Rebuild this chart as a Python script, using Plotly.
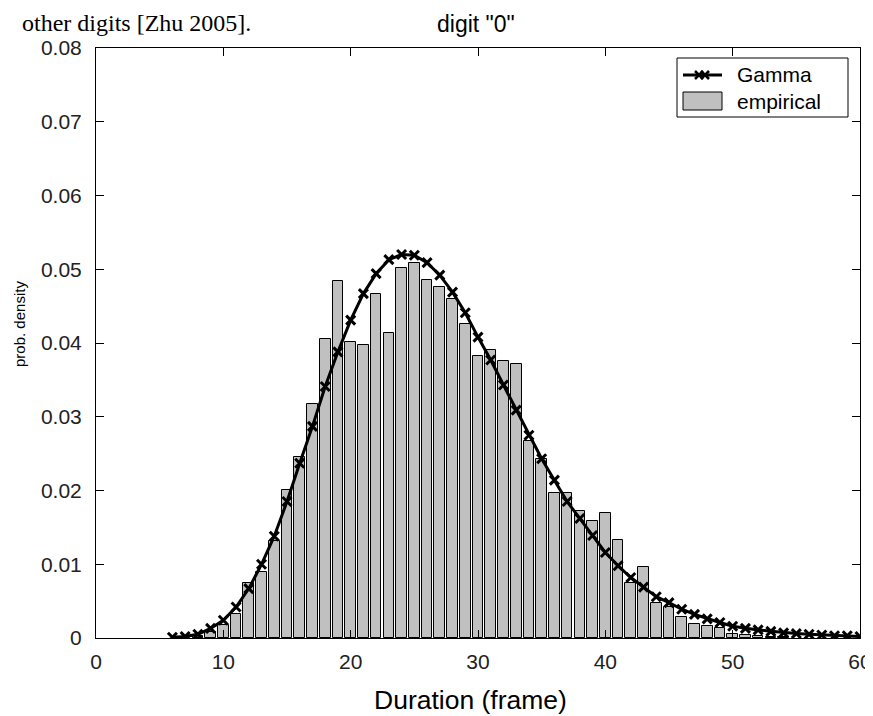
import plotly.graph_objects as go

# Empirical histogram (duration in frames -> probability density)
bar_x = list(range(7, 55))
bar_y = [0.0001, 0.0003, 0.00085, 0.0018, 0.0033, 0.0075, 0.0089, 0.0131, 0.0201, 0.0246,
         0.0317, 0.0405, 0.0484, 0.0402, 0.0397, 0.0467, 0.0414, 0.0502, 0.0509, 0.0486,
         0.0476, 0.0459, 0.0426, 0.0383, 0.0391, 0.0375, 0.0371, 0.0267, 0.0243, 0.0197,
         0.0196, 0.0172, 0.0159, 0.0170, 0.0133, 0.0074, 0.0096, 0.0048, 0.0042, 0.0028,
         0.0019, 0.0016, 0.0013, 0.0006, 0.0004, 0.0003, 0.0002, 0.0001]

# Gamma fit evaluated at integer durations
gamma_x = list(range(6, 61))
gamma_y = [0.0001, 0.0002, 0.0005, 0.0013, 0.0024, 0.0042, 0.0067, 0.0100, 0.0138, 0.0185,
           0.0237, 0.0287, 0.0341, 0.0388, 0.0431, 0.0467, 0.0494, 0.0513, 0.0520, 0.0519,
           0.0509, 0.0492, 0.0469, 0.0441, 0.0408, 0.0377, 0.0343, 0.0309, 0.0275, 0.0243,
           0.0214, 0.0185, 0.0162, 0.0139, 0.0116, 0.0098, 0.0082, 0.0069, 0.0056, 0.0048,
           0.0039, 0.0032, 0.0026, 0.0021, 0.0016, 0.0013, 0.0011, 0.0009, 0.0007, 0.0006,
           0.0005, 0.0004, 0.0003, 0.0003, 0.0002]

x_ticks = [0, 10, 20, 30, 40, 50, 60]
y_ticks = [0, 0.01, 0.02, 0.03, 0.04, 0.05, 0.06, 0.07, 0.08]
y_tick_text = ["0", "0.01", "0.02", "0.03", "0.04", "0.05", "0.06", "0.07", "0.08"]

legend_names = ["Gamma", "empirical"]

SANS = "Liberation Sans, Arial"
BAR_FILL = "#c0c0c0"

# The page body adds an 8 px offset, so the figure is sized to fill the rest.
W, H = 865, 708
ML, MR, MT, MB = 88, 13, 40, 78
PW, PH = W - ML - MR, H - MT - MB      # plot area in px


def px(sx):   # screen x (px) -> paper x
    return (sx - 8 - ML) / PW


def py(sy):   # screen y (px) -> paper y
    return (H - MB - (sy - 8)) / PH


fig = go.Figure()
fig.add_trace(go.Bar(
    x=bar_x, y=bar_y, name=legend_names[1], width=0.84,
    marker=dict(color=BAR_FILL, line=dict(color="black", width=1)),
    showlegend=False,
))
fig.add_trace(go.Scatter(
    x=gamma_x, y=gamma_y, name=legend_names[0], mode="lines+markers",
    line=dict(color="black", width=3),
    marker=dict(symbol="x-thin", size=9, color="black", line=dict(color="black", width=3)),
    showlegend=False,
))

axis_common = dict(
    showline=True, linecolor="black", linewidth=1, mirror="ticks",
    ticks="inside", ticklen=8, tickcolor="black", showgrid=False, zeroline=False,
    automargin=False,
    tickfont=dict(family=SANS, size=21, color="#222222"),
)

fig.update_layout(
    width=W, height=H,
    margin=dict(l=ML, r=MR, t=MT, b=MB),
    paper_bgcolor="white", plot_bgcolor="white",
    bargap=0,
    xaxis=dict(range=[0, 60], tickvals=x_ticks, ticklabelstandoff=5, **axis_common),
    yaxis=dict(range=[0, 0.08], tickvals=y_ticks, ticktext=y_tick_text,
               ticklabelstandoff=9, **axis_common),
    showlegend=False,
)

# title, axis labels (placed like the original MATLAB figure)
fig.add_annotation(text='digit "0"', xref="paper", yref="paper",
                   x=px(476), y=py(24), xanchor="center", yanchor="middle",
                   showarrow=False, font=dict(family=SANS, size=23, color="black"))
fig.add_annotation(text="Duration (frame)", xref="paper", yref="paper",
                   x=px(470), y=py(700), xanchor="center", yanchor="middle",
                   showarrow=False, font=dict(family=SANS, size=26.5, color="black"))
fig.add_annotation(text="prob. density", xref="paper", yref="paper",
                   x=px(19), y=py(324), xanchor="center", yanchor="middle",
                   textangle=-90, showarrow=False,
                   font=dict(family=SANS, size=15, color="black"))

# legend box (MATLAB style)
fig.add_shape(type="rect", xref="paper", yref="paper",
              x0=px(677), x1=px(848), y0=py(117), y1=py(58),
              line=dict(color="black", width=1), fillcolor="white", layer="above")
fig.add_shape(type="line", xref="paper", yref="paper",
              x0=px(683), x1=px(722), y0=py(75), y1=py(75),
              line=dict(color="black", width=3), layer="above")
for dx in (-3, 3):
    fig.add_shape(type="line", xref="paper", yref="paper",
                  x0=px(702 + dx - 4), x1=px(702 + dx + 4), y0=py(71), y1=py(79),
                  line=dict(color="black", width=2.5), layer="above")
    fig.add_shape(type="line", xref="paper", yref="paper",
                  x0=px(702 + dx - 4), x1=px(702 + dx + 4), y0=py(79), y1=py(71),
                  line=dict(color="black", width=2.5), layer="above")
fig.add_shape(type="rect", xref="paper", yref="paper",
              x0=px(683), x1=px(722), y0=py(110), y1=py(92),
              line=dict(color="black", width=1), fillcolor=BAR_FILL, layer="above")
for name, sy in zip(legend_names, (75, 101)):
    fig.add_annotation(text=name, xref="paper", yref="paper",
                       x=px(735), y=py(sy), xanchor="left", yanchor="middle",
                       showarrow=False, font=dict(family=SANS, size=21, color="black"))

# surrounding page text (cut off in the original page), kept fully visible at the top edge
fig.add_annotation(
    text="other digits [Zhu 2005].", xref="paper", yref="paper",
    x=px(20), y=py(8), xanchor="left", yanchor="top", showarrow=False,
    font=dict(family="Liberation Serif, Times New Roman", size=24, color="black"),
)

fig.write_html("out.html")
